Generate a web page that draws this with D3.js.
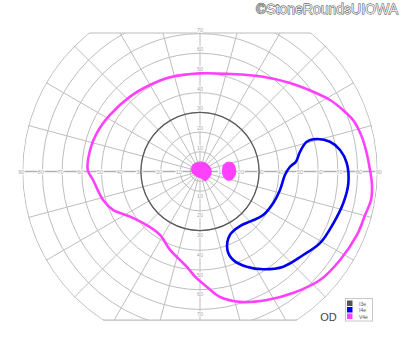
<!DOCTYPE html>
<html>
<head>
<meta charset="utf-8">
<script src="https://cdn.jsdelivr.net/npm/d3@7"></script>
<style>
  html, body { margin: 0; padding: 0; background: #fff; }
  svg { display: block; font-family: "Liberation Sans", Arial, sans-serif; }
</style>
</head>
<body>
<svg id="chart" width="400" height="352"></svg>
<script>
// grid rings / meridians (degrees of visual field)
const rings = [5, 10, 20, 30, 40, 50, 60, 70, 80, 90];
const meridians = [0, 15, 30, 45, 60, 75, 90, 105, 120, 135, 150, 165, 180, 195, 210, 225, 240, 255, 270, 285, 300, 315, 330, 345];
const hLabels = [10, 20, 30, 40, 50, 60, 70, 80, 90];
const vLabels = [10, 20, 30, 40, 50, 60, 70];
const fieldTop = 70.3;     // chart is cut flat above / below
const fieldBottom = -75.4;

// I3e isopter, polar: meridian -> eccentricity
const i3eMeridians = [0, 30, 60, 90, 120, 150, 180, 210, 240, 270, 300, 330];
const i3eEcc = [30, 30, 30, 30, 30, 30, 30, 30, 30, 30, 30, 30];

// I4e isopter, [x deg, y deg]
const i4e = [
  [59.2, 16.5], [66.0, 15.1], [71.1, 10.9], [74.5, 4.2], [75.3, -6.0], [72.7, -16.1],
  [67.7, -26.3], [60.9, -36.4], [52.4, -42.4], [42.3, -48.3], [32.1, -49.6], [23.7, -48.3],
  [16.9, -44.9], [13.9, -39.8], [15.2, -32.2], [20.3, -27.7], [26.2, -25.1], [32.1, -22.1],
  [37.2, -16.0], [40.6, -9.4], [43.1, -1.8], [45.7, 2.4], [48.7, 5.0], [50.8, 10.1], [54.2, 15.1]
];

// V4e isopter, [x deg, y deg]
const v4e = [
  [0, 49.8], [15.2, 49.5], [32.0, 48.1], [45.7, 44.9], [57.4, 40.5], [66.0, 36.3],
  [72.6, 31.2], [77.7, 26.1], [82.1, 17.7], [84.6, 9.4], [86.3, 0.8], [87.3, -6.9],
  [86.8, -14.5], [83.8, -22.1], [79.7, -32.2], [71.1, -44.9], [60.9, -55.1], [47.2, -61.7],
  [34.0, -65.2], [20.3, -66.2], [10.2, -63.7], [3.4, -58.5], [-2.5, -53.4], [-6.1, -49.0],
  [-10.2, -44.9], [-15.2, -39.8], [-20.3, -32.2], [-27.1, -27.2], [-35.5, -22.9], [-44.2, -19.5],
  [-49.2, -14.5], [-54.3, -4.3], [-57.0, 0.8], [-55.8, 10.9], [-52.4, 19.5], [-45.7, 28.7],
  [-35.5, 38.0], [-25.4, 43.9], [-15.2, 47.8]
];

// V4e scotomas (filled)
const scotomaCentral = [
  [-3.6, 3.3], [0, 4.7], [3.0, 4.2], [5.4, 1.6], [5.6, -1.3], [4.2, -3.5],
  [2.5, -4.7], [0.9, -3.5], [-2.0, -2.3], [-4.1, -0.1]
];
const scotomaBlind = [
  [14.2, 4.7], [16.8, 4.1], [18.0, 1.3], [17.8, -1.8], [16.2, -4.1], [13.7, -4.3],
  [11.9, -2.3], [11.5, 1.3], [12.2, 3.6]
];

const legendNames = ["I3e", "I4e", "V4e"];
const legendColors = ["#555555", "#0000ee", "#ff40ff"];

const svg = d3.select("#chart");
const cx = 200, cy = 171.5, s = 1.97;

const x = d3.scaleLinear().domain([-90, 90]).range([cx - 90 * s, cx + 90 * s]);
const y = d3.scaleLinear().domain([-90, 90]).range([cy + 90 * s, cy - 90 * s]);
const r = d3.scaleLinear().domain([0, 90]).range([0, 90 * s]);

const defs = svg.append("defs");
defs.append("clipPath").attr("id", "clipRect")
  .append("rect")
  .attr("x", 0).attr("y", y(fieldTop))
  .attr("width", 400).attr("height", y(fieldBottom) - y(fieldTop));
defs.append("clipPath").attr("id", "clipCircle")
  .append("circle").attr("cx", cx).attr("cy", cy).attr("r", r(90) + 0.5);

const field = svg.append("g").attr("clip-path", "url(#clipRect)")
  .append("g").attr("clip-path", "url(#clipCircle)");

// rings
field.selectAll("circle.ring")
  .data(rings)
  .join("circle")
  .attr("class", "ring")
  .attr("cx", cx).attr("cy", cy)
  .attr("r", d => r(d))
  .attr("fill", "none")
  .attr("stroke", "#bdbdbd")
  .attr("stroke-width", 1);

// meridians
field.selectAll("line.spoke")
  .data(meridians)
  .join("line")
  .attr("class", "spoke")
  .attr("x1", cx).attr("y1", cy)
  .attr("x2", d => cx + r(95) * Math.cos(d * Math.PI / 180))
  .attr("y2", d => cy - r(95) * Math.sin(d * Math.PI / 180))
  .attr("stroke", d => d % 180 === 0 ? "#b0b0b0" : "#bdbdbd")
  .attr("stroke-width", d => d % 180 === 0 ? 1.6 : 1);

// flat top / bottom edges
[fieldTop, fieldBottom].forEach(v => {
  const half = Math.sqrt(r(90) * r(90) - (y(v) - cy) * (y(v) - cy));
  svg.append("line")
    .attr("x1", cx - half).attr("x2", cx + half)
    .attr("y1", y(v)).attr("y2", y(v))
    .attr("stroke", "#bdbdbd").attr("stroke-width", 1.2);
});

// axis labels
const labels = svg.append("g")
  .attr("font-size", 5.5)
  .attr("fill", "#a8a8a8")
  .attr("text-anchor", "middle")
  .attr("dominant-baseline", "central")
  .attr("stroke", "#fff").attr("stroke-width", 1.5)
  .attr("paint-order", "stroke");
hLabels.forEach(d => {
  labels.append("text").attr("x", x(-d) - 1.5).attr("y", cy).text(d);
  labels.append("text").attr("x", x(d) + 1.5).attr("y", cy).text(d);
});
vLabels.forEach(d => {
  labels.append("text").attr("x", cx).attr("y", y(d) - 4).text(d);
  labels.append("text").attr("x", cx).attr("y", y(-d) + 4.5).text(d);
});

// I3e
const radial = d3.lineRadial()
  .angle((d, i) => (90 - i3eMeridians[i]) * Math.PI / 180)
  .radius(d => r(d))
  .curve(d3.curveCardinalClosed);
svg.append("path")
  .attr("d", radial(i3eEcc))
  .attr("transform", `translate(${cx},${cy})`)
  .attr("fill", "none")
  .attr("stroke", "#5a5a5a")
  .attr("stroke-width", 1.3);

const line = d3.line()
  .x(d => x(d[0]))
  .y(d => y(d[1]))
  .curve(d3.curveCatmullRomClosed);

svg.append("path")
  .attr("d", line(v4e))
  .attr("fill", "none")
  .attr("stroke", legendColors[2])
  .attr("stroke-width", 2.6);

svg.append("path")
  .attr("d", line(i4e))
  .attr("fill", "none")
  .attr("stroke", legendColors[1])
  .attr("stroke-width", 2.6);

svg.selectAll("path.scotoma")
  .data([scotomaCentral, scotomaBlind])
  .join("path")
  .attr("class", "scotoma")
  .attr("d", d => line(d))
  .attr("fill", legendColors[2])
  .attr("stroke", legendColors[2])
  .attr("stroke-width", 1);

// legend
const lg = svg.append("g").attr("transform", "translate(345.5,298.5)");
lg.append("rect").attr("width", 27).attr("height", 22.5)
  .attr("fill", "#fff").attr("stroke", "#c8c8c8").attr("stroke-width", 1);
legendNames.forEach((n, i) => {
  lg.append("rect").attr("x", 1.5).attr("y", 2 + i * 6.5)
    .attr("width", 5.5).attr("height", 5.5).attr("fill", legendColors[i]);
  lg.append("text").attr("x", 13.5).attr("y", 5 + i * 6.5)
    .attr("dominant-baseline", "central")
    .attr("font-size", 5).attr("fill", "#555").text(n);
});

svg.append("text")
  .attr("x", 328.5).attr("y", 317)
  .attr("text-anchor", "middle")
  .attr("dominant-baseline", "central")
  .attr("font-size", 11).attr("fill", "#444")
  .text("OD");

svg.append("text")
  .attr("x", 398).attr("y", 14)
  .attr("text-anchor", "end")
  .attr("font-size", 14)
  .attr("fill", "#e8e8e8")
  .attr("stroke", "#333").attr("stroke-width", 0.8)
  .attr("paint-order", "stroke")
  .text("©StoneRoundsUIOWA");
</script>
</body>
</html>
